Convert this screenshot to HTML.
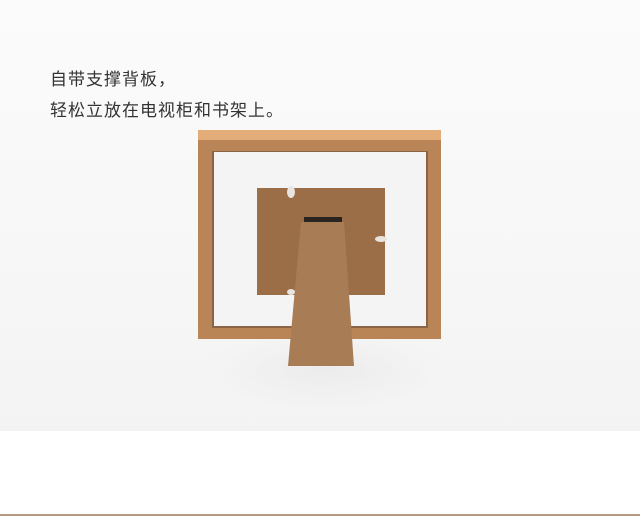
<!DOCTYPE html>
<html><head><meta charset="utf-8"><style>
html,body{margin:0;padding:0}
body{width:640px;height:516px;position:relative;background:#fff;overflow:hidden;font-family:"Liberation Sans","Noto Sans CJK SC",sans-serif}
.abs{position:absolute}
</style></head><body>
<div class="abs" style="left:0;top:0;width:640px;height:431px;background:linear-gradient(#fbfbfb,#f7f7f7 60%,#f3f3f3)"></div>
<div class="abs" style="left:205px;top:330px;width:240px;height:80px;border-radius:50%;background:radial-gradient(ellipse,#ececec,rgba(240,240,240,0) 70%)"></div>
<div class="abs" style="left:50px;top:64px;font-size:17px;line-height:31px;color:#333;letter-spacing:1px">
<div>自带支撑背板，</div>
<div>轻松立放在电视柜和书架上。</div>
</div>
<svg class="abs" style="left:0;top:0" width="640" height="516">
<rect x="198" y="130" width="243" height="12" fill="#e2ad78"/>
<rect x="198" y="140" width="243" height="199" fill="#b98556"/>
<rect x="212" y="151" width="216" height="177" fill="#8a6446"/>
<rect x="214" y="152" width="212" height="174" fill="#f4f4f4"/>
<rect x="257" y="188" width="128" height="107" fill="#9c6e47"/>
<rect x="304" y="217" width="38" height="6" fill="#2a2420"/>
<polygon points="301,222 344,222 354,366 288,366" fill="#a87c55"/>
<ellipse cx="291" cy="192" rx="4" ry="6" fill="#e8e4e0"/>
<ellipse cx="381" cy="239" rx="6" ry="3" fill="#e8e4e0"/>
<ellipse cx="291" cy="292" rx="4" ry="3" fill="#e8e4e0"/>
<rect x="0" y="514" width="640" height="2" fill="#b49a85"/>
</svg>
</body></html>
